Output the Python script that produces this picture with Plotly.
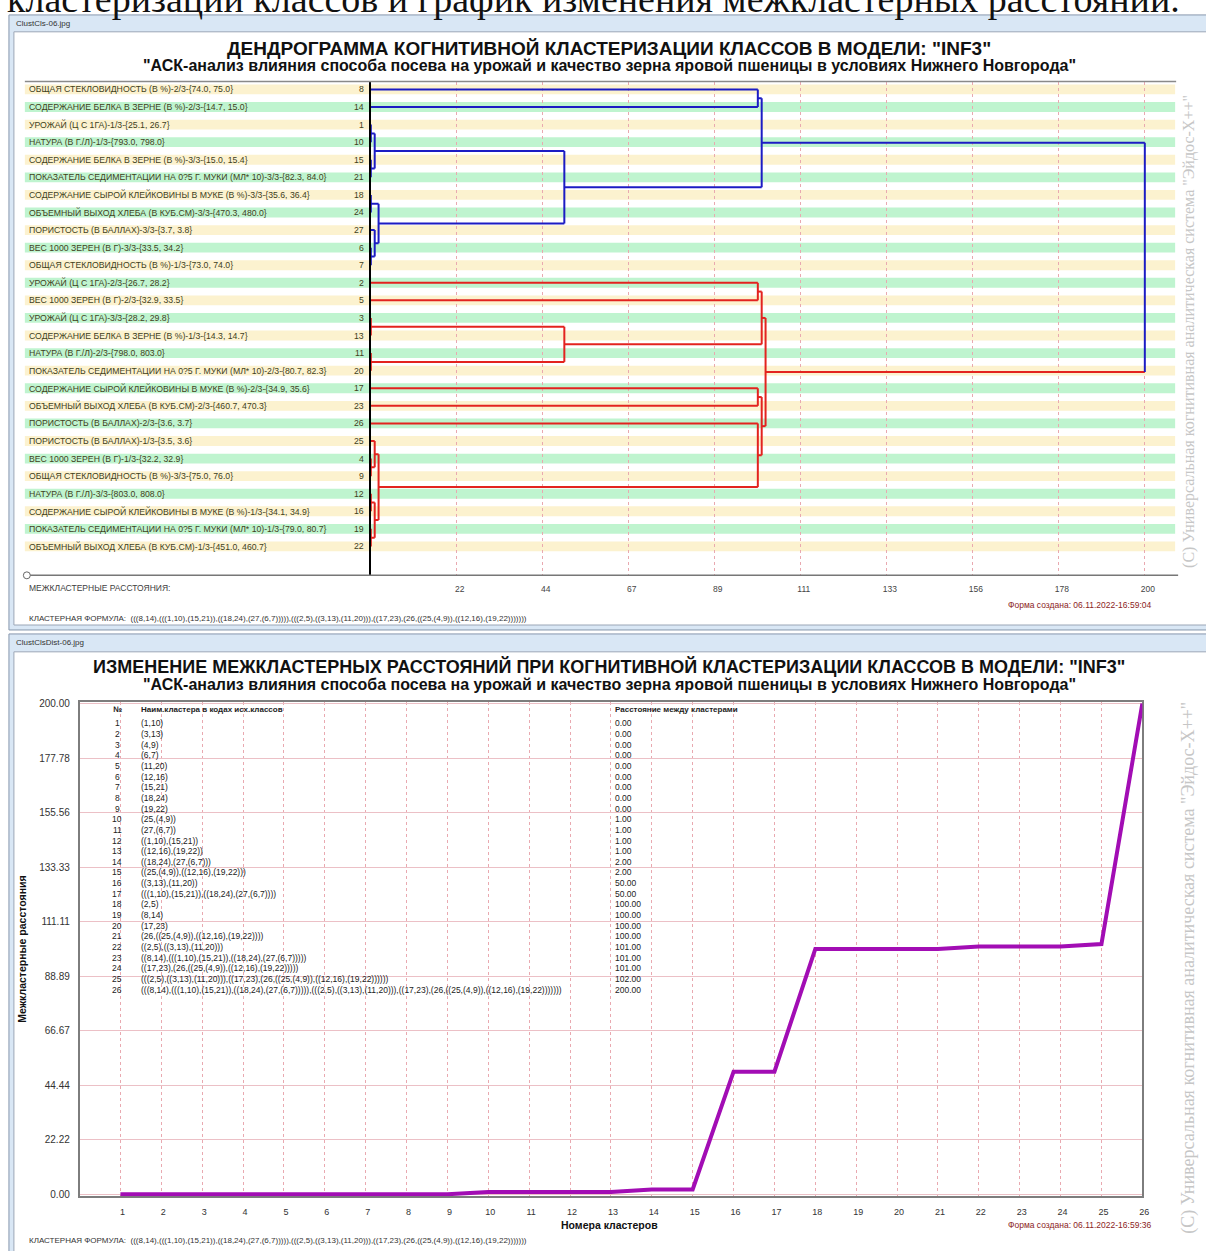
import ast
import plotly.graph_objects as go

W, H = 1206, 1251

# ------------------------------------------------------------------ data
row_classes = [8, 14, 1, 10, 15, 21, 18, 24, 27, 6, 7, 2, 5, 3, 13, 11, 20,
               17, 23, 26, 25, 4, 9, 12, 16, 19, 22]
row_labels = [
    "ОБЩАЯ СТЕКЛОВИДНОСТЬ (В %)-2/3-{74.0, 75.0}",
    "СОДЕРЖАНИЕ БЕЛКА В ЗЕРНЕ (В %)-2/3-{14.7, 15.0}",
    "УРОЖАЙ (Ц С 1ГА)-1/3-{25.1, 26.7}",
    "НАТУРА (В Г./Л)-1/3-{793.0, 798.0}",
    "СОДЕРЖАНИЕ БЕЛКА В ЗЕРНЕ (В %)-3/3-{15.0, 15.4}",
    "ПОКАЗАТЕЛЬ СЕДИМЕНТАЦИИ НА 0?5 Г. МУКИ (МЛ* 10)-3/3-{82.3, 84.0}",
    "СОДЕРЖАНИЕ СЫРОЙ КЛЕЙКОВИНЫ В МУКЕ (В %)-3/3-{35.6, 36.4}",
    "ОБЪЕМНЫЙ ВЫХОД ХЛЕБА (В КУБ.СМ)-3/3-{470.3, 480.0}",
    "ПОРИСТОСТЬ (В БАЛЛАХ)-3/3-{3.7, 3.8}",
    "ВЕС 1000 ЗЕРЕН (В Г)-3/3-{33.5, 34.2}",
    "ОБЩАЯ СТЕКЛОВИДНОСТЬ (В %)-1/3-{73.0, 74.0}",
    "УРОЖАЙ (Ц С 1ГА)-2/3-{26.7, 28.2}",
    "ВЕС 1000 ЗЕРЕН (В Г)-2/3-{32.9, 33.5}",
    "УРОЖАЙ (Ц С 1ГА)-3/3-{28.2, 29.8}",
    "СОДЕРЖАНИЕ БЕЛКА В ЗЕРНЕ (В %)-1/3-{14.3, 14.7}",
    "НАТУРА (В Г./Л)-2/3-{798.0, 803.0}",
    "ПОКАЗАТЕЛЬ СЕДИМЕНТАЦИИ НА 0?5 Г. МУКИ (МЛ* 10)-2/3-{80.7, 82.3}",
    "СОДЕРЖАНИЕ СЫРОЙ КЛЕЙКОВИНЫ В МУКЕ (В %)-2/3-{34.9, 35.6}",
    "ОБЪЕМНЫЙ ВЫХОД ХЛЕБА (В КУБ.СМ)-2/3-{460.7, 470.3}",
    "ПОРИСТОСТЬ (В БАЛЛАХ)-2/3-{3.6, 3.7}",
    "ПОРИСТОСТЬ (В БАЛЛАХ)-1/3-{3.5, 3.6}",
    "ВЕС 1000 ЗЕРЕН (В Г)-1/3-{32.2, 32.9}",
    "ОБЩАЯ СТЕКЛОВИДНОСТЬ (В %)-3/3-{75.0, 76.0}",
    "НАТУРА (В Г./Л)-3/3-{803.0, 808.0}",
    "СОДЕРЖАНИЕ СЫРОЙ КЛЕЙКОВИНЫ В МУКЕ (В %)-1/3-{34.1, 34.9}",
    "ПОКАЗАТЕЛЬ СЕДИМЕНТАЦИИ НА 0?5 Г. МУКИ (МЛ* 10)-1/3-{79.0, 80.7}",
    "ОБЪЕМНЫЙ ВЫХОД ХЛЕБА (В КУБ.СМ)-1/3-{451.0, 460.7}",
]

cluster_numbers = list(range(1, 27))
cluster_names = [
    "(1,10)", "(3,13)", "(4,9)", "(6,7)", "(11,20)", "(12,16)", "(15,21)",
    "(18,24)", "(19,22)", "(25,(4,9))", "(27,(6,7))", "((1,10),(15,21))",
    "((12,16),(19,22))", "((18,24),(27,(6,7)))",
    "((25,(4,9)),((12,16),(19,22)))", "((3,13),(11,20))",
    "(((1,10),(15,21)),((18,24),(27,(6,7))))", "(2,5)", "(8,14)", "(17,23)",
    "(26,((25,(4,9)),((12,16),(19,22))))", "((2,5),((3,13),(11,20)))",
    "((8,14),(((1,10),(15,21)),((18,24),(27,(6,7)))))",
    "((17,23),(26,((25,(4,9)),((12,16),(19,22)))))",
    "(((2,5),((3,13),(11,20))),((17,23),(26,((25,(4,9)),((12,16),(19,22))))))",
    "(((8,14),(((1,10),(15,21)),((18,24),(27,(6,7))))),(((2,5),((3,13),(11,20))),((17,23),(26,((25,(4,9)),((12,16),(19,22)))))))",
]
cluster_distances = [0, 0, 0, 0, 0, 0, 0, 0, 0, 1, 1, 1, 1, 2, 2, 50, 50,
                     100, 100, 100, 100, 101, 101, 101, 102, 200]

dend_tick_values = [22.22, 44.44, 66.67, 88.89, 111.11, 133.33, 155.56, 177.78, 200.0]
dend_tick_labels = ["22", "44", "67", "89", "111", "133", "156", "178", "200"]
dist_tick_values = [0.0, 22.22, 44.44, 66.67, 88.89, 111.11, 133.33, 155.56, 177.78, 200.0]
dist_tick_labels = ["0.00", "22.22", "44.44", "66.67", "88.89", "111.11",
                    "133.33", "155.56", "177.78", "200.00"]

# ------------------------------------------------------------------ helpers
def X(p):
    return p / W


def Y(p):
    return 1 - p / H


SANS = "Arial, Liberation Sans, sans-serif"
SERIF = "Times New Roman, Liberation Serif, serif"
BLUE = "#1c1cc4"
RED = "#e3231f"

# ------------------------------------------------------------------ dendrogram geometry
tree_nodes = [ast.literal_eval(s) for s in cluster_names]
node_dist = {n: d for n, d in zip(tree_nodes, cluster_distances)}
row_of = {c: i for i, c in enumerate(row_classes)}
root = tree_nodes[-1]


def pos(n):
    if isinstance(n, int):
        return row_of[n]
    return (pos(n[0]) + pos(n[1])) / 2.0


def dist(n):
    return 0.0 if isinstance(n, int) else node_dist[n]


def leaves(n):
    if isinstance(n, int):
        return {n}
    return leaves(n[0]) | leaves(n[1])


blue_leaves = leaves(root[0])


def colour(n):
    if n == root:
        return BLUE
    return BLUE if leaves(n) <= blue_leaves else RED


segs = {BLUE: ([], []), RED: ([], [])}


def add(col, xs, ys):
    segs[col][0].extend(xs + [None])
    segs[col][1].extend(ys + [None])


for n in tree_nodes:
    d = node_dist[n]
    for ch in n:
        add(colour(ch), [dist(ch), d], [pos(ch), pos(ch)])
    add(colour(n), [d, d], [pos(n[0]), pos(n[1])])

# ------------------------------------------------------------------ figure
fig = go.Figure()

for col in (RED, BLUE):
    fig.add_trace(go.Scatter(x=segs[col][0], y=segs[col][1], mode="lines",
                             line=dict(color=col, width=2), hoverinfo="skip",
                             xaxis="x", yaxis="y"))

fig.add_trace(go.Scatter(x=cluster_numbers, y=cluster_distances, mode="lines",
                         line=dict(color="#a20db4", width=4), hoverinfo="skip",
                         xaxis="x2", yaxis="y2"))

# dendrogram axes geometry (pixels)
DX0, DX1 = 373, 1185
PX_PER_UNIT = 86.5 / 22.222
ROW0, ROWSTEP = 86.0, 17.69
DY0, DY1 = 79, 575

# distance chart geometry
CX0, CX1 = 80, 1149
CY0, CY1 = 702, 1200

shapes = []
# window frames
shapes.append(dict(type="rect", xref="paper", yref="paper", x0=X(9), x1=X(1215), y0=Y(11), y1=Y(630),
                   fillcolor="#d9e7f5", line=dict(color="#8797ad", width=1), layer="below"))
shapes.append(dict(type="rect", xref="paper", yref="paper", x0=X(14), x1=X(1215), y0=Y(28), y1=Y(625),
                   fillcolor="white", line=dict(color="#9ba6b6", width=1), layer="below"))
shapes.append(dict(type="rect", xref="paper", yref="paper", x0=X(9), x1=X(1215), y0=Y(634), y1=Y(1265),
                   fillcolor="#d9e7f5", line=dict(color="#8797ad", width=1), layer="below"))
shapes.append(dict(type="rect", xref="paper", yref="paper", x0=X(14), x1=X(1215), y0=Y(652), y1=Y(1265),
                   fillcolor="white", line=dict(color="#9ba6b6", width=1), layer="below"))

# row bands
for i in range(len(row_classes)):
    shapes.append(dict(type="rect", xref="paper", yref="y", x0=X(25), x1=X(1182),
                       y0=i - 0.28, y1=i + 0.28,
                       fillcolor="#fcf2cf" if i % 2 == 0 else "#bff4cf",
                       line=dict(width=0), layer="below"))

# title separator and bottom axis line
shapes.append(dict(type="line", xref="paper", yref="paper", x0=X(25), x1=X(1183), y0=Y(78), y1=Y(78),
                   line=dict(color="#8a8a8a", width=1.5)))
shapes.append(dict(type="line", xref="paper", yref="paper", x0=X(27), x1=X(1185), y0=Y(575), y1=Y(575),
                   line=dict(color="#777777", width=1.5)))
shapes.append(dict(type="circle", xref="paper", yref="paper", x0=X(23.5), x1=X(30.5), y0=Y(571.5), y1=Y(578.5),
                   fillcolor="white", line=dict(color="#666666", width=1)))

annotations = []


def txt(x, y, text, size=8, color="#333333", xanchor="left", yanchor="middle", bold=False,
        family=SANS, angle=0, xref="paper", yref="paper"):
    if bold:
        text = "<b>" + text + "</b>"
    annotations.append(dict(x=x, y=y, xref=xref, yref=yref, text=text, showarrow=False,
                            xanchor=xanchor, yanchor=yanchor, textangle=angle,
                            font=dict(size=size, color=color, family=family)))


# document text cut at top
txt(X(597), Y(-5), "кластеризации классов и график изменения межкластерных расстояний.",
    size=38, color="#111111", xanchor="center", family=SERIF)

# ---- top window texts
txt(X(14), Y(20), "ClustCls-06.jpg", size=8, color="#333333")
txt(X(613), Y(45), "ДЕНДРОГРАММА КОГНИТИВНОЙ КЛАСТЕРИЗАЦИИ КЛАССОВ В МОДЕЛИ: \"INF3\"",
    size=19, color="#111111", xanchor="center", bold=True)
txt(X(613), Y(62), "\"АСК-анализ влияния способа посева на урожай и качество зерна яровой пшеницы в условиях Нижнего Новгорода\"",
    size=16, color="#111111", xanchor="center", bold=True)

for i, (lab, cls) in enumerate(zip(row_labels, row_classes)):
    txt(X(27), i, lab, size=8.7, color="#3f3f1c", yref="y")
    txt(X(368), i, str(cls), size=8.7, color="#3f3f1c", xanchor="right", yref="y")

txt(X(27), Y(588), "МЕЖКЛАСТЕРНЫЕ РАССТОЯНИЯ:", size=8.5, color="#404040")
txt(X(1160), Y(605), "Форма создана: 06.11.2022-16:59:04", size=8.5, color="#8b2323", xanchor="right")
txt(X(27), Y(618), "КЛАСТЕРНАЯ ФОРМУЛА:&nbsp;&nbsp;" + cluster_names[-1], size=8, color="#333333")
txt(X(1196), Y(330), "(С) Универсальная когнитивная аналитическая система \"Эйдос-Х++\"",
    size=16, color="#c6c6c6", xanchor="center", family=SERIF, angle=-90)

# ---- bottom window texts
txt(X(14), Y(643), "ClustClsDist-06.jpg", size=8, color="#333333")
txt(X(613), Y(667), "ИЗМЕНЕНИЕ МЕЖКЛАСТЕРНЫХ РАССТОЯНИЙ ПРИ КОГНИТИВНОЙ КЛАСТЕРИЗАЦИИ КЛАССОВ В МОДЕЛИ: \"INF3\"",
    size=18, color="#111111", xanchor="center", bold=True)
txt(X(613), Y(685), "\"АСК-анализ влияния способа посева на урожай и качество зерна яровой пшеницы в условиях Нижнего Новгорода\"",
    size=16, color="#111111", xanchor="center", bold=True)

# table inside the plot
txt(X(118), Y(710), "№", size=8, color="#222222", xanchor="center", bold=True)
txt(X(140), Y(710), "Наим.кластера в кодах исх.классов", size=8, color="#222222", bold=True)
txt(X(617), Y(710), "Расстояние между кластерами", size=8, color="#222222", bold=True)
for k, (num, name, d) in enumerate(zip(cluster_numbers, cluster_names, cluster_distances)):
    yy = Y(724 + 10.72 * k)
    txt(X(118), yy, str(num), size=8.5, color="#222222", xanchor="center")
    txt(X(140), yy, name, size=8.5, color="#222222")
    txt(X(617), yy, "%.2f" % d, size=8.5, color="#222222")

txt(X(22), Y(951), "Межкластерные расстояния", size=10.5, color="#111111", xanchor="center",
    bold=True, angle=-90)
txt(X(613), Y(1229), "Номера кластеров", size=10.5, color="#111111", xanchor="center", bold=True)
txt(X(1160), Y(1229), "Форма создана: 06.11.2022-16:59:36", size=8.5, color="#8b2323", xanchor="right")
txt(X(27), Y(1244), "КЛАСТЕРНАЯ ФОРМУЛА:&nbsp;&nbsp;" + cluster_names[-1], size=8, color="#333333")
txt(X(1196), Y(970), "(С) Универсальная когнитивная аналитическая система \"Эйдос-Х++\"",
    size=18, color="#c6c6c6", xanchor="center", family=SERIF, angle=-90)

fig.update_layout(
    width=W, height=H, margin=dict(l=0, r=0, t=0, b=0),
    paper_bgcolor="white", plot_bgcolor="rgba(0,0,0,0)", showlegend=False,
    shapes=shapes, annotations=annotations,
    xaxis=dict(domain=[X(DX0), X(DX1)], range=[0, (DX1 - DX0) / PX_PER_UNIT],
               tickvals=dend_tick_values, ticktext=dend_tick_labels,
               showgrid=True, gridcolor="#e9a9b0", griddash="dot", gridwidth=1,
               zeroline=False, showline=False, ticks="outside", ticklen=5,
               tickcolor="rgba(0,0,0,0)", ticklabelshift=3,
               tickfont=dict(size=8.5, color="#444444", family=SANS), anchor="y", fixedrange=True),
    yaxis=dict(domain=[Y(DY1), Y(DY0)],
               range=[(DY1 - ROW0) / ROWSTEP, (DY0 - ROW0) / ROWSTEP],
               showgrid=False, zeroline=False, showticklabels=False, ticks="",
               showline=True, linecolor="#000000", linewidth=1.5, anchor="x", fixedrange=True),
    xaxis2=dict(domain=[X(CX0), X(CX1)], range=[0, 26],
                tickvals=cluster_numbers, ticktext=[str(v) for v in cluster_numbers],
                showgrid=True, gridcolor="#e9a9b0", griddash="dot", gridwidth=1,
                zeroline=False, showline=True, mirror=True, linecolor="#7d7d7d", linewidth=1.5,
                ticks="outside", ticklen=6, tickcolor="rgba(0,0,0,0)", ticklabelshift=2,
                tickfont=dict(size=9, color="#333333", family=SANS), anchor="y2",
                layer="below traces", fixedrange=True),
    yaxis2=dict(domain=[Y(CY1), Y(CY0)], range=[-0.8, 200.8],
                tickvals=dist_tick_values, ticktext=dist_tick_labels,
                showgrid=True, gridcolor="#ecc0c6", gridwidth=1,
                zeroline=False, showline=True, mirror=True, linecolor="#7d7d7d", linewidth=1.5,
                ticks="outside", ticklen=6, tickcolor="rgba(0,0,0,0)",
                tickfont=dict(size=10, color="#333333", family=SANS), anchor="x2",
                layer="below traces", fixedrange=True),
)

fig.write_html("out.html", config={"displayModeBar": False},
               post_script="document.body.style.margin='0px';document.documentElement.style.overflow='hidden';")
